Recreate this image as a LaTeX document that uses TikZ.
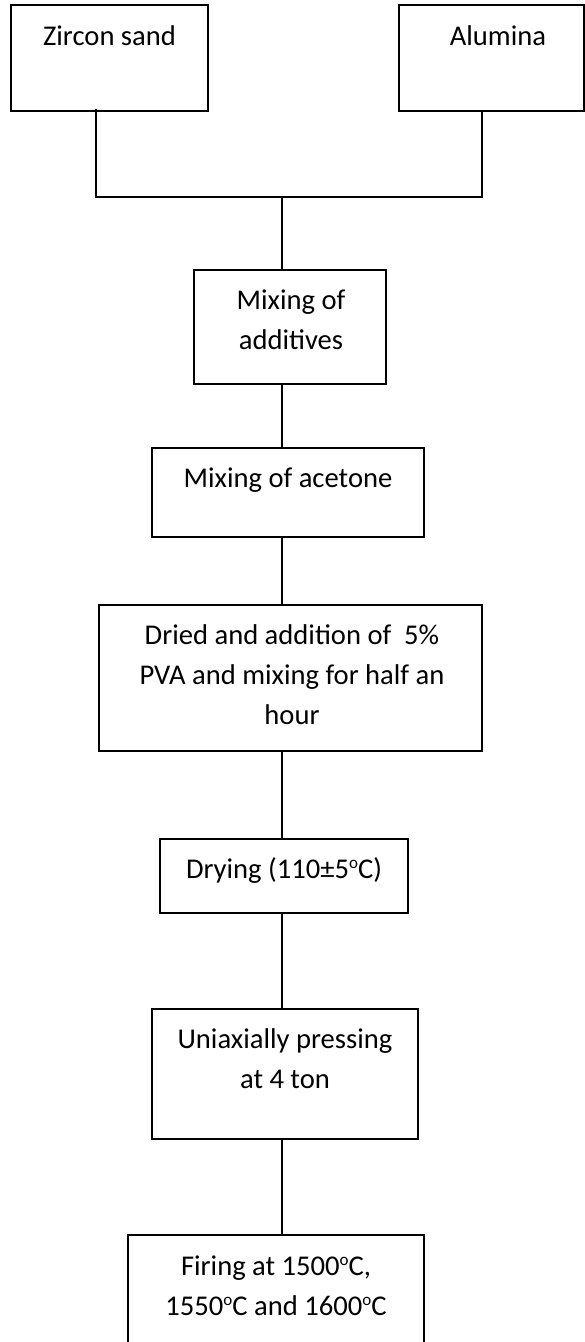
\documentclass[tikz,border=0pt]{standalone}
\usepackage{fontspec}
\setmainfont{Carlito}
\tikzset{
  box/.style={draw=black, line width=1.8pt, inner sep=0pt, rectangle},
  txt/.style={font=\fontsize{28.6}{40}\selectfont, align=center, anchor=north, inner sep=0pt},
  conn/.style={draw=black, line width=1.7pt}
}
\newcommand{\degsym}{\raisebox{9.5pt}{\fontsize{17}{17}\selectfont o}}
\newcommand{\fl}{\rule{0pt}{25pt}}
\begin{document}
\begin{tikzpicture}[x=1pt, y=-1pt]
\clip (0,0) rectangle (585,1342);
% boxes (x centre, y centre, width, height)
\node[box, minimum width=197pt, minimum height=106pt] (zircon) at (109.5,58) {};
\node[box, minimum width=185pt, minimum height=106pt] (alumina) at (491.5,58) {};
\node[box, minimum width=192pt, minimum height=114pt] (add) at (290,327) {};
\node[box, minimum width=272pt, minimum height=89pt] (acet) at (288,492.5) {};
\node[box, minimum width=383pt, minimum height=146pt] (dried) at (290.5,678) {};
\node[box, minimum width=248pt, minimum height=74pt] (dry) at (284,876) {};
\node[box, minimum width=266pt, minimum height=130pt] (press) at (285,1074) {};
\node[box, minimum width=296pt, minimum height=130pt] (fire) at (276,1300) {};
% texts (first baseline = anchor + 25)
\node[txt] (tz) at (109.5,20) {\fl Zircon sand};
\node[txt] (ta) at (498,20) {\fl Alumina};
\node[txt] (tad) at (291,284) {\fl Mixing of\\additives};
\node[txt] (tac) at (288,462) {\fl Mixing of acetone};
\node[txt] (tdr) at (292,619) {\fl Dried and addition of\ \ 5\%\\PVA and mixing for half an\\hour};
\node[txt] (tdy) at (284,853) {\fl Drying (110±5\degsym C)};
\node[txt] (tpr) at (285,1023) {\fl Uniaxially pressing\\at 4 ton};
\node[txt] (tfi) at (276,1250) {\fl Firing at 1500\degsym C,\\1550\degsym C and 1600\degsym C};
% connectors
\coordinate (j) at (282,197);
\coordinate (zl) at (96,197);
\coordinate (ar) at (482,197);
\draw[conn] ([xshift=-13.5pt, yshift=3pt]zircon.south) -- (zl) -- (ar) -- ([xshift=-9.5pt]alumina.south);
\draw[conn] (j) -- (j |- add.north);
\draw[conn] (add.south -| j) -- (acet.north -| j);
\draw[conn] (acet.south -| j) -- (dried.north -| j);
\draw[conn] (dried.south -| j) -- (dry.north -| j);
\draw[conn] (dry.south -| j) -- (press.north -| j);
\draw[conn] (press.south -| j) -- (fire.north -| j);
\end{tikzpicture}
\end{document}
